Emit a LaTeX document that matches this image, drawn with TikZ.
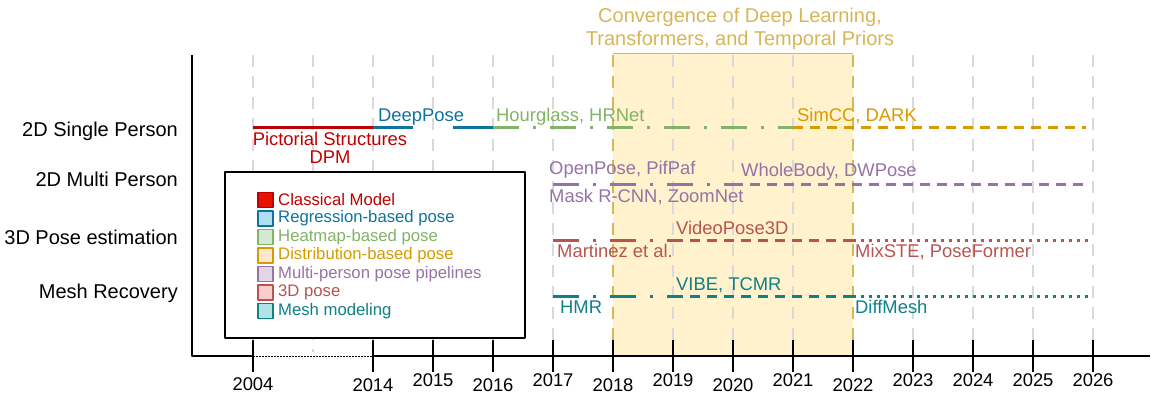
\documentclass[tikz,border=0pt]{standalone}
\usepackage{fontspec}
\setmainfont{Liberation Sans}
\usetikzlibrary{calc}
\definecolor{classical}{HTML}{C00000}
\definecolor{classicalL}{HTML}{E51400}
\definecolor{regression}{HTML}{10739E}
\definecolor{regressionL}{HTML}{B1DDF0}
\definecolor{heatmap}{HTML}{82B366}
\definecolor{heatmapL}{HTML}{D5E8D4}
\definecolor{distribution}{HTML}{D79B00}
\definecolor{distributionL}{HTML}{FFE6CC}
\definecolor{multi}{HTML}{9673A6}
\definecolor{multiL}{HTML}{E1D5E7}
\definecolor{pose3d}{HTML}{B85450}
\definecolor{pose3dL}{HTML}{F8CECC}
\definecolor{mesh}{HTML}{0E8088}
\definecolor{meshL}{HTML}{B0E3E6}
\definecolor{hlfill}{HTML}{FFF2CC}
\definecolor{hledge}{HTML}{D6B656}
\definecolor{gridgray}{HTML}{D9D9D9}
\begin{document}
\begin{tikzpicture}[x=1pt,y=-1pt,line join=round,
  track/.style={line width=3pt},
  dashdot/.style={dash pattern=on 26pt off 14pt on 3pt off 14pt},
  shortdash/.style={dash pattern=on 10pt off 7pt},
  dots/.style={dash pattern=on 3pt off 5pt},
  gridline/.style={gridgray,line width=1.5pt,dash pattern=on 12pt off 9pt},
  axisline/.style={black,line width=1.3pt},
  rowlabel/.style={anchor=base east,inner sep=0pt,font=\fontsize{20}{23}\selectfont},
  lbl/.style={anchor=base west,inner sep=0pt,font=\fontsize{18.4}{21}\selectfont},
  yearlbl/.style={anchor=base,inner sep=0pt,font=\fontsize{18.4}{21}\selectfont},
  legsq/.style={draw,minimum size=15pt,inner sep=0pt,line width=1.2pt},
  legtext/.style={anchor=west,inner sep=0pt,font=\fontsize{16.7}{19}\selectfont}]
\useasboundingbox (0,0) rectangle (1159,405);

% year columns
\foreach \yr/\x in {2004/253,2014/373,2015/433,2016/493,2017/553,2018/613,2019/673,
  2020/733,2021/793,2022/853,2023/913,2024/973,2025/1033,2026/1093}
  \coordinate (t\yr) at (\x,0);
\coordinate (tmid) at (313,0);
\coordinate (tend) at (1086,0);
\coordinate (tdot) at (1090,0);

% row levels
\coordinate (r1) at (0,127);
\coordinate (r2) at (0,184);
\coordinate (r3) at (0,240);
\coordinate (r4) at (0,296);
\coordinate (top) at (0,55);
\coordinate (hltop) at (0,53);
\coordinate (gridend) at (0,352);
\coordinate (tickT) at (0,340);
\coordinate (tickB) at (0,372);
\coordinate (orig) at (192,356);
\coordinate (axend) at (1150,356);

% highlighted period
\fill[hlfill] (t2018 |- hltop) rectangle (t2022 |- orig);
\draw[hledge,line width=1pt] (t2018 |- hltop) -- (t2022 |- hltop);
\node[hledge,font=\fontsize{20}{23}\selectfont,align=center] (title) at (740,29)
  {Convergence of Deep Learning,\\Transformers, and Temporal Priors};

% grid
\foreach \t in {t2004,tmid,t2014,t2015,t2016,t2017,t2019,t2020,t2021,t2023,t2024,t2025,t2026}
  \draw[gridline] (\t |- top) -- (\t |- gridend);
\foreach \t in {t2018,t2022}
  \draw[gridline,hledge] (\t |- top) -- (\t |- gridend);

% axes
\draw[axisline] (orig |- top) -- (orig) -- (t2004 |- orig);
\draw[black,line width=1pt,dash pattern=on 1.5pt off 1.5pt] (t2004 |- orig) -- (t2014 |- orig);
\draw[axisline] (t2014 |- orig) -- (axend);
\foreach \t in {t2004,t2014,t2015,t2016,t2017,t2018,t2019,t2020,t2021,t2022,t2023,t2024,t2025,t2026}
  \draw[axisline] (\t |- tickT) -- (\t |- tickB);
\foreach \yr/\dy in {2004/390,2014/391,2015/386,2016/391,2017/386,2018/391,2019/386,
  2020/391,2021/386,2022/391,2023/386,2024/386,2025/386,2026/386}
  \node[yearlbl] (y\yr) at ($(t\yr)+(0,\dy)$) {\yr};

% row labels
\node[rowlabel] (row1) at (178,136) {2D Single Person};
\node[rowlabel] (row2) at (178,186) {2D Multi Person};
\node[rowlabel] (row3) at (178,244) {3D Pose estimation};
\node[rowlabel] (row4) at (178,298) {Mesh Recovery};

% 2D single person
\draw[track,classical] (t2004 |- r1) -- (t2014 |- r1);
\draw[track,regression,dash pattern=on 40pt off 40pt] (t2014 |- r1) -- (t2016 |- r1);
\draw[track,heatmap,dashdot] (t2016 |- r1) -- (t2021 |- r1);
\draw[track,distribution,shortdash] (t2021 |- r1) -- (tend |- r1);
\node[classical,align=center,inner sep=0pt,font=\fontsize{18.4}{18}\selectfont] (pict) at (330,148)
  {Pictorial Structures\\DPM};
\node[lbl,regression] (deeppose) at (378,121) {DeepPose};
\node[lbl,heatmap] (hourglass) at (496,121) {Hourglass, HRNet};
\node[lbl,distribution] (simcc) at (797,121) {SimCC, DARK};

% 2D multi person
\draw[track,multi,dashdot] (t2017 |- r2) -- (t2020 |- r2);
\draw[track,multi,shortdash] (t2020 |- r2) -- (tend |- r2);
\node[lbl,multi] (openpose) at (549,174) {OpenPose, PifPaf};
\node[lbl,multi] (wholebody) at (741,176) {WholeBody, DWPose};
\node[lbl,multi] (maskrcnn) at (549,202) {Mask R-CNN, ZoomNet};

% 3D pose
\draw[track,pose3d,dashdot] (t2017 |- r3) -- (t2019 |- r3);
\draw[track,pose3d,shortdash] (t2019 |- r3) -- (t2022 |- r3);
\draw[track,pose3d,dots] (t2022 |- r3) -- (tdot |- r3);
\node[lbl,pose3d] (videopose) at (676,234) {VideoPose3D};
\node[lbl,pose3d] (martinez) at (557,257) {Martinez et al.};
\node[lbl,pose3d] (mixste) at (855,257) {MixSTE, PoseFormer};

% mesh recovery
\draw[track,mesh,dashdot] (t2017 |- r4) -- (t2019 |- r4);
\draw[track,mesh,shortdash] (t2019 |- r4) -- (t2022 |- r4);
\draw[track,mesh,dots] (t2022 |- r4) -- (tdot |- r4);
\node[lbl,mesh] (vibe) at (676,290) {VIBE, TCMR};
\node[lbl,mesh] (hmr) at (560,313) {HMR};
\node[lbl,mesh] (diffmesh) at (855,313) {DiffMesh};

% legend
\draw[black,line width=1.3pt,fill=white] (225,172) rectangle (525,338);
\foreach \c/\txt [count=\k] in {classical/Classical Model,regression/Regression-based pose,
  heatmap/Heatmap-based pose,distribution/Distribution-based pose,
  multi/Multi-person pose pipelines,pose3d/3D pose,mesh/Mesh modeling}
{
  \node[legsq,draw=\c,fill=\c L] (sq\k) at (265.5,{200+18.5*(\k-1)}) {};
  \node[legtext,\c] (lt\k) at (278,{200+18.5*(\k-1)}) {\txt};
}
\end{tikzpicture}
\end{document}
